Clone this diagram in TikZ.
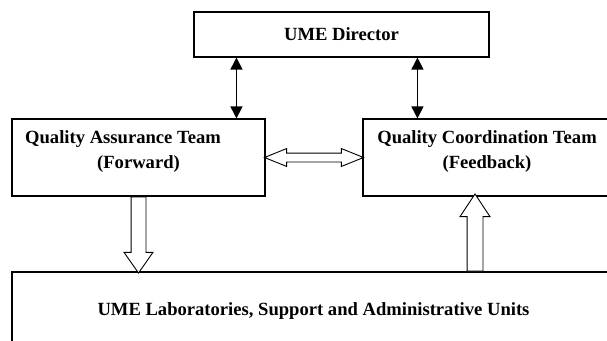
\documentclass[tikz,border=0pt]{standalone}
\usepackage{fontspec}
\setmainfont{Liberation Serif}
\usetikzlibrary{arrows.meta,shapes.arrows,calc}
\begin{document}
\begin{tikzpicture}[x=1pt,y=-1pt,
  font=\fontsize{18.6}{25}\selectfont\bfseries,
  box/.style={draw,line width=1.1pt,inner sep=0pt,align=center},
  link/.style={line width=1.2pt,{Triangle[width=12pt,length=12pt]}-{Triangle[width=12pt,length=12pt]}},
  fat/.style={draw,line width=0.9pt,fill=white,inner sep=0pt,text depth=0pt}]
\clip (0,0) rectangle (607,340);

% boxes
\node[box,minimum width=295pt,minimum height=45pt] (dir) at (341.5,34.5) {UME Director};
\node[box,minimum width=253pt,minimum height=77pt] (qa) at (138.5,157.5) {};
\node[box,minimum width=248pt,minimum height=77pt] (qc) at (487,157.5) {};
\node[box,minimum width=603pt,minimum height=78pt] (lab) at (313.5,311) {UME Laboratories, Support and Administrative Units};

\node[align=center] (qatext) at ([yshift=6pt]qa.center) {Quality Assurance Team\kern31pt\\(Forward)};
\node[align=center] (qctext) at ([yshift=6pt]qc.center) {Quality Coordination Team\\(Feedback)};

% director links
\draw[link] ([xshift=43pt]dir.south west) -- ([xshift=43pt]dir.south west |- qa.north);
\draw[link] ([xshift=55pt]qc.north west |- dir.south) -- ([xshift=55pt]qc.north west);

% hollow arrows
\node[fat,double arrow,text height=8pt,double arrow head extend=4.5pt,double arrow tip angle=44,minimum height=99pt]
  (swap) at ($(qa.east)!.5!(qc.west)$) {};
\node[fat,single arrow,text height=14pt,single arrow head extend=7pt,single arrow tip angle=70,minimum height=76pt,rotate=-90,anchor=tail]
  (fwd) at (qa.south) {};
\node[fat,single arrow,text height=15pt,single arrow head extend=7pt,single arrow tip angle=67,minimum height=77pt,rotate=90,anchor=tail]
  (back) at ([xshift=-12pt]qc.south |- lab.north) {};

\end{tikzpicture}
\end{document}
